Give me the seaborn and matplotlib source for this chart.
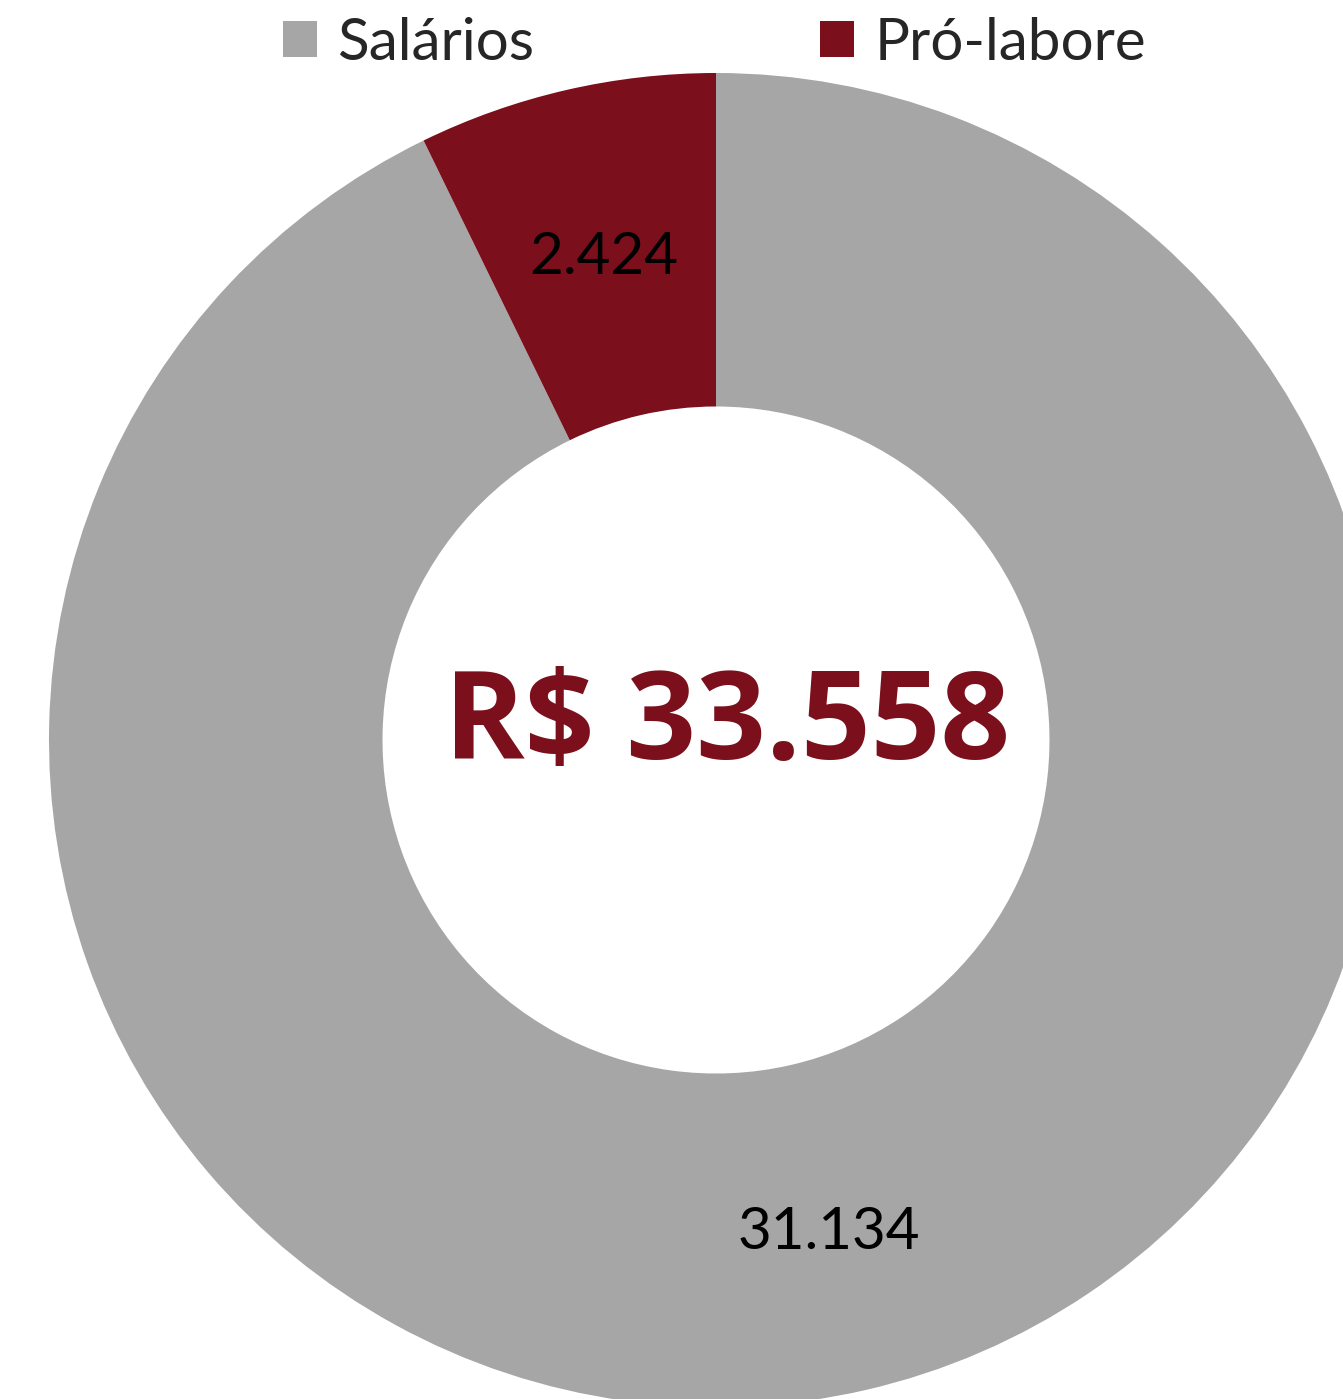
import numpy as np
import matplotlib
matplotlib.use("Agg")
import matplotlib.pyplot as plt
import seaborn as sns

# data
categories = ["Salários", "Pró-labore"]
values = [31134, 2424]
colors = ["#A6A6A6", "#7B0F1C"]
total = sum(values)


def fmt_br(v):
    return f"{int(round(v)):,}".replace(",", ".")


def main():
    sns.set_theme(style="white")
    plt.rcParams["font.family"] = ["Lato", "DejaVu Sans"]

    W, H = 1343, 1399
    cx, cy, R = 716, 740, 667
    fig = plt.figure(figsize=(W / 100, H / 100), dpi=100)
    ax = fig.add_axes([0, 0, 1, 1])

    wedges, texts, autotexts = ax.pie(
        values,
        colors=colors,
        startangle=90,
        counterclock=False,
        radius=R,
        center=(0, 0),
        autopct=lambda p: fmt_br(p * total / 100),
        pctdistance=0.75,
        wedgeprops={"width": R * 0.5, "linewidth": 0},
        textprops={"fontsize": 42, "color": "black"},
    )
    # Excel puts the data labels a touch lower than the ring midline
    for t in autotexts:
        t.set_va("center_baseline")

    ax.set_xlim(-cx, W - cx)
    ax.set_ylim(-(H - cy), cy)
    ax.set_aspect("equal")
    ax.axis("off")

    # total in the hole
    ax.annotate(f"R$ {fmt_br(total)}", xy=(0, 0), xytext=(8, 9),
                textcoords="offset points", ha="center", va="center",
                fontsize=88, fontweight="bold", color=colors[1],
                family=["Open Sans", "DejaVu Sans"])

    fig.legend(wedges, categories, loc="upper center", ncol=2,
               bbox_to_anchor=(0.532, 1.013), frameon=False, fontsize=42,
               handlelength=0.58, handleheight=0.58, handletextpad=0.35,
               columnspacing=4.9, borderpad=0.1)

    fig.savefig("out.png", dpi=100)
    plt.close(fig)


if __name__ == "__main__":
    main()
